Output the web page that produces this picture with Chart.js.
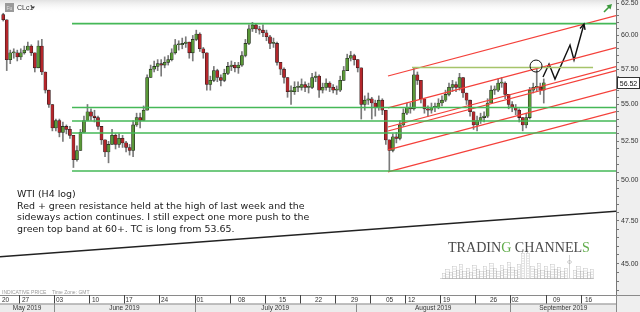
<!DOCTYPE html>
<html>
<head>
<meta charset="utf-8">
<script src="https://cdn.jsdelivr.net/npm/chart.js@4.4.1/dist/chart.umd.min.js"></script>
<style>
  html, body { margin: 0; padding: 0; background: #fff; overflow: hidden; }
  canvas { display: block; }
</style>
</head>
<body>
<canvas id="c" width="640" height="312"></canvas>
<script>
// X axis is counted in trading days from Mon 27 May 2019 (weekends removed)
const X_MIN = -2.71;
const X_MAX = 85.04;

// Half-day candles (two per trading day)
const firstBarDay = -2.25;
const barDays = 0.5;
const firstOpen = 61.6;
const closes = [
  61.2, 58.2, 58.7, 58.7, 58.4, 58.7, 58.9, 59.2, 58.7, 57.6,
  59.2, 57.3, 56.0, 55.0, 53.4, 53.9, 53.1, 53.5, 53.3, 52.9,
  51.3, 51.9, 53.1, 53.9, 54.5, 54.2, 54.1, 53.5, 52.6, 51.8,
  52.3, 52.9, 52.3, 52.7, 52.4, 52.1, 51.9, 53.6, 54.1, 53.9,
  54.6, 56.9, 57.5, 57.7, 57.9, 57.8, 58.0, 58.2, 58.7, 59.3,
  59.3, 59.4, 59.5, 58.7, 59.7, 60.1, 59.0, 58.7, 56.4, 56.7,
  57.4, 56.9, 56.7, 57.2, 57.7, 57.8, 57.6, 57.8, 58.5, 59.4,
  60.5, 60.8, 60.5, 60.4, 60.2, 59.9, 59.4, 59.4, 58.0, 57.5,
  56.9, 55.9, 55.9, 56.2, 56.2, 56.4, 56.2, 56.2, 56.9, 57.0,
  56.0, 56.2, 56.5, 56.2, 56.0, 56.0, 56.7, 57.4, 58.3, 58.5,
  58.2, 57.6, 55.0, 55.3, 55.4, 55.1, 54.8, 55.3, 54.6, 52.6,
  51.9, 52.8, 52.7, 53.6, 54.4, 54.8, 54.7, 57.1, 56.7, 55.4,
  54.7, 54.6, 54.8, 54.8, 55.1, 55.3, 55.7, 56.2, 56.4, 56.2,
  56.9, 55.8, 55.3, 54.5, 53.6, 53.9, 54.1, 54.2, 55.1, 56.0,
  56.0, 56.5, 56.5, 55.7, 55.0, 54.8, 54.6, 54.1, 53.6, 54.1,
  56.0, 56.2, 56.2, 56.0, 56.52
];
const highs = [
  61.7, 61.2, 58.9, 59.0, 58.9, 59.0, 59.2, 59.5, 59.3, 58.7,
  59.6, 59.7, 57.3, 56.0, 55.0, 54.0, 54.0, 53.8, 53.6, 53.5,
  52.9, 52.2, 53.3, 54.2, 55.0, 54.7, 54.6, 54.2, 53.5, 52.6,
  52.5, 53.3, 53.0, 53.0, 52.9, 52.5, 52.3, 53.9, 54.4, 54.4,
  54.9, 57.1, 57.8, 58.1, 58.2, 58.2, 58.4, 58.5, 59.0, 59.7,
  59.6, 59.8, 59.9, 59.5, 60.0, 60.4, 60.2, 59.1, 58.7, 57.0,
  57.7, 57.5, 57.1, 57.5, 58.0, 58.1, 58.0, 58.0, 58.8, 59.7,
  60.8, 61.0, 60.9, 60.7, 60.8, 60.4, 60.0, 59.8, 59.5, 58.0,
  57.6, 56.9, 56.3, 56.6, 56.6, 56.8, 56.6, 56.5, 57.2, 57.3,
  57.1, 56.5, 56.8, 56.6, 56.4, 56.3, 57.0, 57.7, 58.6, 58.8,
  58.6, 58.2, 57.6, 55.6, 55.8, 55.5, 55.3, 55.6, 55.4, 54.6,
  52.6, 53.0, 53.1, 53.9, 54.7, 55.1, 55.1, 57.6, 57.3, 56.7,
  55.4, 54.9, 55.1, 55.1, 55.4, 55.6, 56.0, 56.5, 56.7, 56.6,
  57.2, 56.9, 55.8, 55.3, 54.5, 54.2, 54.4, 54.5, 55.4, 56.3,
  56.3, 56.8, 56.9, 56.6, 55.7, 55.2, 55.0, 54.7, 54.1, 54.4,
  56.2, 56.5, 57.5, 56.5, 56.8
];
const lows = [
  61.1, 57.4, 57.9, 58.3, 58.1, 58.2, 58.6, 58.9, 58.5, 57.3,
  57.6, 57.1, 55.8, 54.8, 53.2, 53.2, 52.8, 52.5, 53.0, 52.7,
  50.8, 51.2, 51.9, 53.1, 53.9, 53.9, 53.8, 53.3, 52.3, 51.5,
  51.1, 52.3, 52.0, 52.1, 52.1, 51.8, 51.6, 51.5, 53.5, 53.4,
  53.9, 54.6, 56.9, 57.3, 57.4, 57.0, 57.6, 57.8, 58.1, 58.6,
  58.9, 59.0, 59.1, 58.3, 58.1, 59.6, 58.8, 58.3, 56.0, 56.0,
  56.6, 56.6, 56.3, 56.6, 57.1, 57.4, 57.3, 57.2, 57.7, 58.4,
  59.3, 60.3, 60.2, 60.1, 59.9, 59.6, 59.0, 59.1, 57.8, 57.1,
  56.5, 55.5, 55.0, 55.7, 55.9, 56.0, 55.9, 55.8, 56.1, 56.6,
  55.5, 55.8, 56.0, 55.9, 55.8, 55.7, 55.9, 56.7, 57.4, 58.1,
  57.8, 57.3, 54.0, 54.6, 55.0, 54.0, 54.2, 54.6, 54.3, 52.3,
  50.6, 51.8, 52.4, 52.6, 53.5, 54.3, 54.4, 54.6, 56.4, 55.1,
  54.4, 54.2, 54.4, 54.5, 54.7, 54.9, 55.2, 55.6, 55.9, 55.9,
  56.0, 55.5, 55.0, 54.2, 53.3, 53.2, 53.7, 53.8, 54.1, 55.1,
  55.7, 55.9, 56.2, 55.4, 54.7, 54.5, 54.3, 53.8, 53.2, 53.4,
  54.0, 55.8, 55.9, 55.7, 55.1
];

// Drawn levels
const greenLevels = [60.9, 54.79, 53.87, 53.06, 50.58];
const greenFromDay = 7.55;
const oliveLevel = 57.63;
const oliveDays = [55.98, 81.77];
const channelDays = [52.56, 85.04];
const channelLeft = [57.01, 54.76, 53.46, 53.19, 51.94, 50.52];
const channelRight = [61.52, 59.09, 57.69, 57.40, 56.04, 54.51];
const trendDays = [-2.71, 85.04];
const trendPrices = [45.4, 48.07];
const pathDays = [74.64, 75.5, 76.35, 78.49, 79.06, 80.48];
const pathPrices = [56.94, 57.88, 56.79, 59.28, 58.17, 60.87];
const circleDay = 73.65;
const circlePrice = 57.73;

// Axis labels
const priceLabels = [45, 47.5, 50, 52.5, 55, 57.5, 60, 62.5];
const weekStarts = [-5, 0, 5, 10, 15, 20, 25, 30, 35, 40, 45, 50, 55, 60, 65, 70, 75, 80, 85];
const weekLabels = ['20', '27', '03', '10', '17', '24', '01', '08', '15', '22', '29', '05', '12', '19', '26', '02', '09', '16'];
const monthStarts = [5, 25, 48, 70];
const monthLabels = ['May 2019', 'June 2019', 'July 2019', 'August 2019', 'September 2019'];

const noteLines = [
  'WTI (H4 log)',
  'Red + green resistance held at the high of last week and the',
  'sideways action continues. I still expect one more push to the',
  'green top band at 60+. TC is long from 53.65.'
];

const upColor = '#5a9838';
const downColor = '#b3262b';

// candles -> floating bars
const bodies = [];
const wicks = [];
const bodyColors = [];
closes.forEach(function(c, i) {
  const o = i === 0 ? firstOpen : closes[i - 1];
  const x = firstBarDay + i * barDays;
  bodies.push({ x: x, y: [o, c] });
  wicks.push({ x: x, y: [lows[i], highs[i]] });
  bodyColors.push(c >= o ? upColor : downColor);
});

function lineSet(points, color, width) {
  return {
    type: 'line',
    data: points,
    borderColor: color,
    borderWidth: width,
    pointRadius: 0,
    fill: false,
    tension: 0,
    order: 1
  };
}

const datasets = [];
greenLevels.forEach(function(v) {
  datasets.push(lineSet([{ x: greenFromDay, y: v }, { x: X_MAX, y: v }], '#45b857', 1.6));
});
datasets.push(lineSet([{ x: oliveDays[0], y: oliveLevel }, { x: oliveDays[1], y: oliveLevel }], '#a6c46a', 1.5));
channelLeft.forEach(function(v, i) {
  datasets.push(lineSet([{ x: channelDays[0], y: v }, { x: channelDays[1], y: channelRight[i] }], '#f4403a', 1.2));
});
datasets.push(lineSet([{ x: trendDays[0], y: trendPrices[0] }, { x: trendDays[1], y: trendPrices[1] }], '#222', 1.5));
datasets.push(lineSet(pathDays.map(function(d, i) { return { x: d, y: pathPrices[i] }; }), '#111', 1.4));

datasets.push({
  type: 'bar', data: wicks, backgroundColor: '#7a7a7a', barThickness: 1,
  grouped: false, order: 11
});
datasets.push({
  type: 'bar', data: bodies, backgroundColor: bodyColors, borderColor: '#1d1d1d',
  borderWidth: 0.55, borderSkipped: false, barThickness: 3.1, minBarLength: 1,
  grouped: false, order: 10
});

function fitSize(ctx, text, family, width) {
  ctx.font = '10px ' + family;
  return 10 * width / ctx.measureText(text).width;
}

const deco = {
  id: 'deco',
  beforeDraw: function(chart) {
    const ctx = chart.ctx, a = chart.chartArea;
    ctx.save();
    ctx.fillStyle = '#ffffff';
    ctx.fillRect(0, 0, 640, 312);
    ctx.fillStyle = '#efefef';
    ctx.fillRect(a.right, 0, 640 - a.right, 312);
    const g = ctx.createLinearGradient(0, 0, 0, 13);
    g.addColorStop(0, '#e2e2e2');
    g.addColorStop(1, 'rgba(255,255,255,0)');
    ctx.fillStyle = g;
    ctx.fillRect(0, 0, a.right, 13);
    ctx.restore();
  },
  afterDatasetsDraw: function(chart) {
    const ctx = chart.ctx, xs = chart.scales.x, ys = chart.scales.y;
    ctx.save();

    // circle on the spike
    ctx.strokeStyle = '#111';
    ctx.lineWidth = 1;
    ctx.beginPath();
    ctx.arc(xs.getPixelForValue(circleDay), ys.getPixelForValue(circlePrice), 6, 0, Math.PI * 2);
    ctx.stroke();

    // arrow head at end of projected path
    const n = pathDays.length;
    const ex = xs.getPixelForValue(pathDays[n - 1]), ey = ys.getPixelForValue(pathPrices[n - 1]);
    const px = xs.getPixelForValue(pathDays[n - 2]), py = ys.getPixelForValue(pathPrices[n - 2]);
    const ang = Math.atan2(ey - py, ex - px);
    ctx.lineWidth = 1.4;
    ctx.beginPath();
    ctx.moveTo(ex - 6 * Math.cos(ang - 0.45), ey - 6 * Math.sin(ang - 0.45));
    ctx.lineTo(ex, ey);
    ctx.lineTo(ex - 6 * Math.cos(ang + 0.45), ey - 6 * Math.sin(ang + 0.45));
    ctx.stroke();

    // comment text
    const fam = '"DejaVu Sans", sans-serif';
    const size = fitSize(ctx, noteLines[1], fam, 288);
    ctx.font = size.toFixed(2) + 'px ' + fam;
    ctx.fillStyle = '#1a1a1a';
    ctx.textBaseline = 'alphabetic';
    noteLines.forEach(function(t, i) {
      ctx.fillText(t, 17, 197 + i * 11.6);
    });

    // logo
    const serif = '"Liberation Serif", "DejaVu Serif", serif';
    const lsize = fitSize(ctx, 'TRADING CHANNELS', serif, 142);
    ctx.font = lsize.toFixed(2) + 'px ' + serif;
    const parts = [['TRADIN', '#4a4a4a'], ['G', '#62ad4c'], [' CHANNEL', '#4a4a4a'], ['S', '#62ad4c']];
    let lx = 448;
    parts.forEach(function(p) {
      ctx.fillStyle = p[1];
      ctx.fillText(p[0], lx, 252);
      lx += ctx.measureText(p[0]).width;
    });

    // skyline sketch (decoration)
    const base = 278;
    const blds = [[442, 5, 3], [445, 9, 4], [449, 6, 3], [452, 12, 4], [456, 8, 3], [459, 14, 3], [462, 7, 4],
      [466, 10, 3], [469, 6, 3], [472, 13, 4], [476, 9, 3], [479, 7, 4], [483, 12, 3], [486, 8, 3],
      [489, 15, 4], [493, 10, 3], [496, 7, 4], [500, 13, 3], [503, 9, 4], [507, 16, 3], [510, 11, 4],
      [514, 8, 3], [517, 14, 3], [521, 25, 3], [526, 25, 3], [530, 12, 4], [534, 9, 3], [537, 15, 3],
      [540, 8, 4], [544, 12, 3], [547, 7, 3], [550, 14, 4], [554, 9, 3], [557, 11, 3], [560, 7, 4],
      [564, 10, 3], [573, 8, 3], [576, 12, 4], [580, 7, 3], [583, 10, 4], [587, 6, 3], [590, 9, 3]];
    ctx.strokeStyle = 'rgba(120,120,120,0.45)';
    ctx.lineWidth = 0.5;
    blds.forEach(function(b) {
      ctx.strokeRect(b[0] + 0.5, base - b[1] + 0.5, b[2], b[1]);
      for (let yy = base - b[1] + 2.5; yy < base - 1; yy += 2.5) {
        ctx.beginPath();
        ctx.moveTo(b[0] + 1, yy + 0.5);
        ctx.lineTo(b[0] + b[2], yy + 0.5);
        ctx.stroke();
      }
    });
    ctx.strokeStyle = 'rgba(110,110,110,0.6)';
    ctx.beginPath();
    ctx.moveTo(522.5, 249); ctx.lineTo(522.5, 253);
    ctx.moveTo(527.5, 249); ctx.lineTo(527.5, 253);
    ctx.moveTo(569.5, 255); ctx.lineTo(569.5, base);
    ctx.moveTo(440, base + 0.5); ctx.lineTo(594, base + 0.5);
    ctx.stroke();
    ctx.beginPath();
    ctx.ellipse(569.5, 262, 2, 1.4, 0, 0, Math.PI * 2);
    ctx.stroke();
    ctx.restore();
  },
  afterDraw: function(chart) {
    const ctx = chart.ctx, xs = chart.scales.x, ys = chart.scales.y, a = chart.chartArea;
    ctx.save();
    const sans = '"Liberation Sans", Arial, sans-serif';

    // toolbar top left
    ctx.fillStyle = '#9a9a9a';
    ctx.fillRect(5, 3, 9, 9);
    ctx.fillStyle = '#e0e0e0';
    ctx.font = '5px ' + sans;
    ctx.fillText('Fu', 6.5, 9.5);
    ctx.fillStyle = '#333';
    ctx.font = '7px ' + sans;
    ctx.fillText('CLc1', 17, 10);
    ctx.beginPath();
    ctx.moveTo(31, 6.5); ctx.lineTo(35, 6.5); ctx.lineTo(33, 9);
    ctx.closePath();
    ctx.fill();

    // green icon top right
    ctx.strokeStyle = '#3c9a3c';
    ctx.fillStyle = '#3c9a3c';
    ctx.lineWidth = 1.6;
    ctx.beginPath();
    ctx.moveTo(604, 12); ctx.lineTo(609, 7);
    ctx.stroke();
    ctx.beginPath();
    ctx.moveTo(612, 4); ctx.lineTo(606.5, 5.5); ctx.lineTo(610.5, 9.5);
    ctx.closePath();
    ctx.fill();

    // bottom info text
    ctx.fillStyle = '#9a9a9a';
    ctx.font = '5px ' + sans;
    ctx.fillText('INDICATIVE PRICE    Time Zone: GMT', 2, 294);

    // date rows
    const y0 = a.bottom, y1 = a.bottom + 8.5, y2 = 312;
    ctx.fillStyle = '#ffffff';
    ctx.fillRect(0, y0, a.right, y1 - y0);
    ctx.fillStyle = '#ececec';
    ctx.fillRect(0, y1, a.right, y2 - y1);
    ctx.strokeStyle = '#8a8a8a';
    ctx.lineWidth = 1;
    ctx.beginPath();
    ctx.moveTo(0, y0 + 0.5); ctx.lineTo(640, y0 + 0.5);
    ctx.moveTo(0, y1 + 0.5); ctx.lineTo(a.right, y1 + 0.5);
    ctx.stroke();

    const shift = [0, 2.5, 1.5, 2.5, 1, 1.5, 1, 7.5, 13.5, 14.5, 15.5, 15.5, 2.5, 2.5, 14.5, 1, 6.5, 3.5];
    ctx.strokeStyle = '#444';
    ctx.font = '6.5px ' + sans;
    ctx.fillStyle = '#333';
    weekStarts.forEach(function(d, k) {
      const x = Math.round(xs.getPixelForValue(d)) + 0.5;
      if (x > 0 && x < 640) {
        ctx.beginPath();
        ctx.moveTo(x, y0); ctx.lineTo(x, y1);
        ctx.stroke();
      }
      if (k < weekLabels.length) {
        ctx.fillText(weekLabels[k], Math.max(2, x + shift[k]), y0 + 6.8);
      }
    });

    ctx.strokeStyle = '#8a8a8a';
    const edges = [xs.getPixelForValue(X_MIN)].concat(monthStarts.map(function(d) { return xs.getPixelForValue(d); }), [a.right]);
    ctx.textAlign = 'center';
    monthLabels.forEach(function(m, i) {
      ctx.fillText(m, (edges[i] + edges[i + 1]) / 2, y2 - 1.6);
    });
    monthStarts.forEach(function(d) {
      const x = Math.round(xs.getPixelForValue(d)) + 0.5;
      ctx.beginPath();
      ctx.moveTo(x, y1); ctx.lineTo(x, y2);
      ctx.stroke();
    });
    ctx.beginPath();
    ctx.moveTo(a.right + 0.5, y0); ctx.lineTo(a.right + 0.5, y2);
    ctx.stroke();

    // last price tag
    const last = closes[closes.length - 1];
    const ly = Math.round(ys.getPixelForValue(last));
    ctx.fillStyle = '#ffffff';
    ctx.fillRect(a.right + 1.5, ly - 5.5, 22, 11);
    ctx.strokeStyle = '#333';
    ctx.strokeRect(a.right + 1.5, ly - 5.5, 22, 11);
    ctx.fillStyle = '#111';
    ctx.font = '7px ' + sans;
    ctx.fillText(last.toFixed(2), a.right + 12.5, ly + 2.5);
    ctx.restore();
  }
};

new Chart(document.getElementById('c'), {
  type: 'bar',
  data: { datasets: datasets },
  options: {
    responsive: false,
    animation: false,
    devicePixelRatio: 1,
    layout: { padding: { left: 0, right: 0, top: 0, bottom: 17 } },
    plugins: { legend: { display: false }, tooltip: { enabled: false } },
    scales: {
      x: {
        type: 'linear', min: X_MIN, max: X_MAX, display: false, offset: false,
        grid: { offset: false }
      },
      y: {
        type: 'logarithmic', position: 'right', min: 43.26, max: 62.74,
        beginAtZero: false, bounds: 'data',
        afterBuildTicks: function(scale) {
          const t = [];
          for (let v = 43.5; v <= 62.5001; v += 0.5) t.push({ value: Math.round(v * 10) / 10 });
          scale.ticks = t;
        },
        afterFit: function(scale) {
          scale.width = 24;
          scale.paddingTop = 0;
          scale.paddingBottom = 0;
        },
        grid: { drawOnChartArea: false, drawTicks: true, tickLength: 3, color: '#777' },
        border: { display: true, color: '#777' },
        ticks: {
          autoSkip: false, padding: 2, color: '#333',
          font: { family: 'Liberation Sans', size: 7 },
          callback: function(v) { return priceLabels.indexOf(v) >= 0 ? v.toFixed(2) : ''; }
        }
      }
    }
  },
  plugins: [deco]
});
</script>
</body>
</html>
